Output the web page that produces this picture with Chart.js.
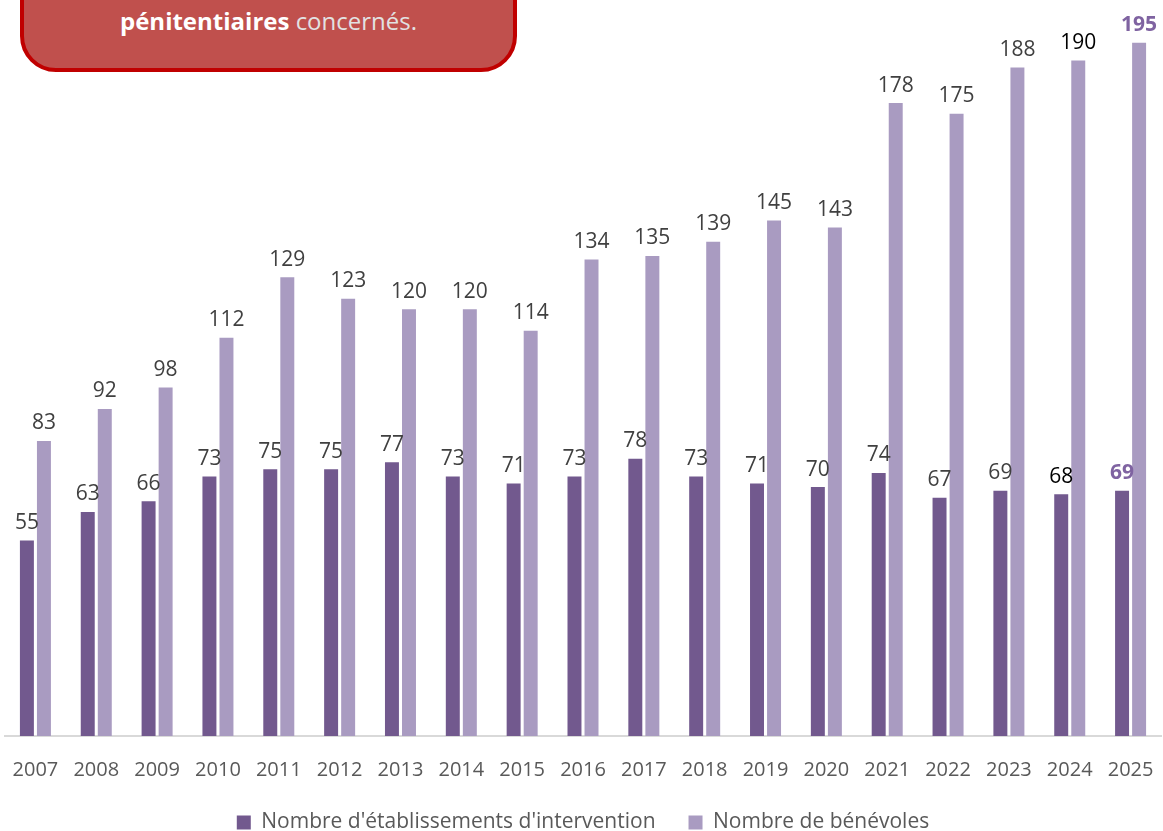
<!DOCTYPE html>
<html lang="fr">
<head>
<meta charset="utf-8">
<title>Bénévoles et établissements</title>
<script src="https://cdn.jsdelivr.net/npm/chart.js@4/dist/chart.umd.min.js"></script>
<style>
    html, body { margin: 0; padding: 0; background: #fff; overflow: hidden; }
    #wrap { position: relative; width: 1163px; height: 831px; }
    #encart {
        position: absolute; left: 20px; top: -80px; width: 489px; height: 144px;
        background: #C0504D; border: 4px solid #C00000; border-radius: 36px;
        font-family: "Open Sans", "Noto Sans", sans-serif; font-size: 24px;
        text-align: center; z-index: 2;
    }
    #encart p { position: absolute; left: 0; right: 0; top: 82px; margin: 0; line-height: 30px; color: #E2E2E2; }
    #encart b { color: #fff; }
</style>
</head>
<body>
<div id="wrap">
    <div id="encart"><p><b>pénitentiaires</b> concernés.</p></div>
    <canvas id="chart" width="1163" height="831"></canvas>
</div>
<script>
    "use strict";

    // Données
    const annees = ['2007', '2008', '2009', '2010', '2011', '2012', '2013', '2014', '2015', '2016',
        '2017', '2018', '2019', '2020', '2021', '2022', '2023', '2024', '2025'];
    const etablissements = [55, 63, 66, 73, 75, 75, 77, 73, 71, 73, 78, 73, 71, 70, 74, 67, 69, 68, 69];
    const benevoles = [83, 92, 98, 112, 129, 123, 120, 120, 114, 134, 135, 139, 145, 143, 178, 175, 188, 190, 195];

    const police = '"Open Sans", "Noto Sans", sans-serif';

    // Etiquettes de valeur au-dessus des barres
    const etiquettes = {
        id: 'etiquettes',
        afterDatasetsDraw(chart) {
            const ctx = chart.ctx;
            const last = annees.length - 1;
            ctx.save();
            ctx.textAlign = 'center';
            ctx.textBaseline = 'bottom';
            chart.data.datasets.forEach((ds, i) => {
                chart.getDatasetMeta(i).data.forEach((bar, j) => {
                    let couleur = '#404040';
                    let graisse = 'normal';
                    if (j === last - 1) couleur = '#000000';
                    if (j === last) { couleur = '#7F63A1'; graisse = 'bold'; }
                    ctx.fillStyle = couleur;
                    ctx.font = graisse + ' 21px ' + police;
                    ctx.fillText(ds.data[j], bar.x, bar.y - 7);
                });
            });
            ctx.restore();
        }
    };

    new Chart(document.getElementById('chart'), {
        type: 'bar',
        data: {
            labels: annees,
            datasets: [{
                label: "Nombre d'établissements d'intervention",
                data: etablissements,
                backgroundColor: '#72598E'
            }, {
                label: 'Nombre de bénévoles',
                data: benevoles,
                backgroundColor: '#A99BC1'
            }]
        },
        options: {
            responsive: false,
            animation: false,
            categoryPercentage: 0.56,
            barPercentage: 0.82,
            layout: { padding: { left: 5, right: 2, top: 0, bottom: -12 } },
            plugins: {
                tooltip: { enabled: false },
                legend: {
                    position: 'bottom',
                    labels: {
                        boxWidth: 14, boxHeight: 14, padding: 33,
                        color: '#595959',
                        font: { family: police, size: 21 }
                    }
                }
            },
            scales: {
                x: {
                    grid: { display: false },
                    border: { display: true, color: '#D9D9D9', width: 2 },
                    ticks: { color: '#595959', padding: 14, maxRotation: 0, font: { family: police, size: 20 } },
                    afterFit(scale) {
                        scale.height = 43;
                        scale.paddingLeft = 0;
                        scale.paddingRight = 0;
                    }
                },
                y: {
                    display: false,
                    min: 0,
                    max: 207
                }
            }
        },
        plugins: [etiquettes]
    });
</script>
</body>
</html>
